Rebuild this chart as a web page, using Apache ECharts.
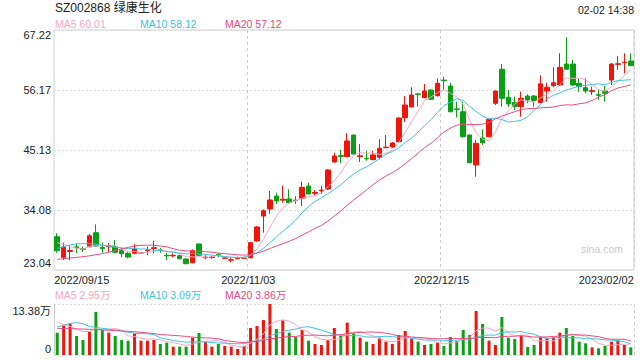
<!DOCTYPE html>
<html><head><meta charset="utf-8">
<script src="https://cdn.jsdelivr.net/npm/echarts@6/dist/echarts.min.js"></script>
<style>html,body{margin:0;padding:0;background:#fff}#c{width:640px;height:360px}</style>
</head><body><div id="c"></div>
<script>
const dates = ['2022/09/15','2022/09/16','2022/09/19','2022/09/20','2022/09/21','2022/09/22','2022/09/23','2022/09/26','2022/09/27','2022/09/28','2022/09/29','2022/09/30',
'2022/10/10','2022/10/11','2022/10/12','2022/10/13','2022/10/14','2022/10/17','2022/10/18','2022/10/19','2022/10/20','2022/10/21','2022/10/24','2022/10/25','2022/10/26','2022/10/27','2022/10/28','2022/10/31',
'2022/11/01','2022/11/02','2022/11/03','2022/11/04','2022/11/07','2022/11/08','2022/11/09','2022/11/10','2022/11/11','2022/11/14','2022/11/15','2022/11/16','2022/11/17','2022/11/18','2022/11/21','2022/11/22','2022/11/23','2022/11/24','2022/11/25','2022/11/28','2022/11/29','2022/11/30',
'2022/12/01','2022/12/02','2022/12/05','2022/12/06','2022/12/07','2022/12/08','2022/12/09','2022/12/12','2022/12/13','2022/12/14','2022/12/15','2022/12/16','2022/12/19','2022/12/20','2022/12/21','2022/12/22','2022/12/23','2022/12/26','2022/12/27','2022/12/28','2022/12/29','2022/12/30',
'2023/01/03','2023/01/04','2023/01/05','2023/01/06','2023/01/09','2023/01/10','2023/01/11','2023/01/12','2023/01/13','2023/01/16','2023/01/17','2023/01/18','2023/01/19','2023/01/20','2023/01/30','2023/01/31','2023/02/01','2023/02/02'];

const opens = [29.17,25.38,26.44,27.3,27.0,27.33,29.91,27.2,27.3,27.33,26.59,26.11,26.11,26.15,26.6,27.0,26.75,25.75,25.65,25.67,25.06,24.38,27.83,25.3,25.33,25.9,25.2,24.85,25.1,25.18,
25.3,28.38,32.98,34.27,36.66,35.9,36.11,35.9,36.24,38.5,37.15,37.6,37.95,42.92,44.1,43.9,47.89,43.9,43.6,43.35,43.79,45.55,45.68,46.66,51.08,53.05,55.45,54.76,56.18,55.13,
58.0,56.91,52.7,52.18,47.89,42.37,47.34,47.58,53.73,59.99,54.83,53.91,53.1,55.07,55.07,53.84,55.99,56.97,57.1,60.96,60.96,57.41,56.6,55.9,55.3,55.99,58.02,60.9,61.2,61.51];
const closes = [26.59,27.22,26.62,27.1,26.85,29.35,27.46,27.0,27.5,26.3,26.04,25.43,26.91,26.25,26.72,27.15,26.65,25.65,25.75,25.12,24.2,26.59,25.75,25.4,25.42,25.8,25.25,24.92,25.2,25.26,
28.07,30.96,33.96,35.93,35.74,36.05,35.43,35.8,38.26,37.03,37.3,37.75,41.45,44.03,43.95,46.79,44.39,44.05,43.5,44.21,45.44,45.65,46.42,51.02,53.41,55.26,55.35,55.99,54.46,57.41,
57.9,52.18,52.6,47.58,42.79,46.36,46.47,50.78,55.99,54.65,53.6,53.1,54.65,54.34,54.21,57.31,56.67,57.52,60.36,59.99,57.1,56.78,55.99,56.05,55.2,55.57,60.96,61.0,61.3,60.65];
const lows = [26.22,24.88,24.88,26.11,26.35,27.22,27.33,26.22,26.35,26.11,25.38,25.19,25.93,26.11,25.75,26.11,26.22,24.88,25.38,25.01,24.09,24.27,25.62,25.01,25.12,25.38,25.12,24.46,25.01,25.06,
25.19,28.25,29.91,33.35,35.19,35.43,35.19,35.19,34.82,36.98,36.66,37.03,37.77,42.79,42.7,43.9,44.34,42.92,43.16,43.29,43.42,45.44,45.5,46.47,50.29,52.99,53.1,54.65,54.34,54.94,
56.2,52.07,51.15,47.4,42.68,40.22,46.05,47.47,53.41,53.1,53.1,52.49,51.26,53.73,53.1,53.84,54.02,56.67,56.91,59.86,56.91,55.86,55.57,55.26,54.34,54.02,57.1,59.86,59.25,60.6];
const highs = [29.8,28.07,27.64,27.95,27.33,29.67,31.45,28.07,28.01,28.56,27.03,26.41,27.83,26.35,27.33,28.43,27.09,26.22,26.11,25.86,25.19,26.85,27.95,25.75,25.62,26.22,25.38,25.38,25.49,25.49,
28.2,31.14,34.21,37.58,37.27,38.56,37.9,36.66,39.3,39.11,37.77,38.5,41.58,44.63,45.2,48.21,47.95,46.24,45.0,45.0,47.1,47.89,46.6,51.15,55.07,56.67,55.57,57.28,56.31,58.33,
58.62,57.52,54.02,54.02,47.95,46.97,48.94,50.97,56.05,60.96,56.18,54.94,55.86,55.38,55.26,58.89,57.52,60.36,62.93,65.88,61.7,58.33,58.33,56.78,56.31,56.91,61.09,62.44,62.93,62.93];

const ma5 = [28.1,27.7,27.35,27.05,26.88,27.43,27.48,27.55,27.63,27.52,26.86,26.45,26.44,26.19,26.27,26.49,26.74,26.48,26.38,26.06,
25.47,25.46,25.48,25.41,25.47,25.79,25.52,25.36,25.32,25.29,25.74,26.88,28.69,30.84,32.93,34.53,35.42,35.79,36.26,36.51,
36.76,37.23,38.36,39.51,40.9,42.79,44.12,44.64,44.54,44.59,44.32,44.57,45.04,46.55,48.39,50.35,52.29,54.21,54.89,55.69,
56.22,55.59,54.91,53.53,50.61,48.3,47.16,46.8,48.48,50.85,52.3,53.62,54.4,54.07,53.98,54.72,55.44,56.01,57.21,58.37,
58.33,58.35,58.04,57.18,56.22,55.92,56.75,57.76,58.81,59.9];
const ma10 = [27.0,27.35,27.65,27.85,27.9,27.9,27.8,27.6,27.4,27.2,27.14,26.97,26.99,26.91,26.9,26.68,26.6,26.46,26.29,26.17,
25.98,26.1,25.98,25.9,25.77,25.63,25.49,25.42,25.37,25.38,25.77,26.2,27.02,28.08,29.11,30.13,31.15,32.24,33.55,34.72,
35.65,36.33,37.07,37.88,38.71,39.78,40.68,41.5,42.02,42.74,43.56,44.35,44.84,45.54,46.49,47.34,48.43,49.63,50.72,52.04,
53.29,53.94,54.56,54.21,53.15,52.26,51.37,50.85,51.01,50.73,50.3,50.39,50.6,51.27,52.42,53.51,54.53,55.2,55.64,56.18,
56.53,56.89,57.03,57.2,57.3,57.12,57.55,57.9,57.99,58.06];
const ma20 = [25.01,25.12,25.25,25.36,25.5,25.64,25.85,26.04,26.3,26.6,26.9,27.2,27.46,27.58,27.62,27.6,27.45,27.3,26.95,26.68,
26.56,26.53,26.49,26.4,26.33,26.15,26.04,25.94,25.83,25.77,25.87,26.15,26.5,26.99,27.44,27.88,28.32,28.83,29.46,30.05,
30.71,31.26,32.05,32.98,33.91,34.96,35.91,36.87,37.79,38.73,39.6,40.34,40.96,41.71,42.6,43.56,44.55,45.56,46.37,47.39,
48.42,49.14,49.7,49.88,49.82,49.8,49.9,50.24,50.86,51.39,51.79,52.17,52.58,52.74,52.78,52.89,52.95,53.03,53.32,53.45,
53.41,53.64,53.81,54.24,54.86,55.32,56.04,56.55,56.82,57.12];

const vols = [5.86,7.7,8.22,4.98,3.94,6.12,11.28,6.56,5.86,4.98,3.94,3.76,5.68,3.76,3.76,3.94,2.89,3.24,2.19,2.19,
2.19,4.55,5.77,3.5,2.19,2.89,2.36,2.19,1.57,2.36,7.08,7.61,9.18,13.38,6.82,9.09,5.86,4.81,6.56,3.76,
2.89,2.62,3.94,7.08,4.98,8.48,5.68,4.55,3.5,2.89,4.55,3.5,2.89,5.25,6.3,4.37,3.5,2.62,2.89,3.32,
2.36,4.72,3.76,6.56,5.25,11.54,8.13,3.76,2.62,9.97,4.55,4.2,5.07,2.1,2.62,4.63,4.37,4.63,5.86,7.08,
4.98,3.5,3.06,2.01,1.75,2.36,3.5,3.76,2.62,2.01];
const volMa5 = [8.7,8.0,7.5,6.8,6.14,6.19,6.91,6.58,6.75,6.96,6.52,5.02,4.84,4.42,4.18,4.18,4.01,3.52,3.2,2.89,
2.54,2.87,3.38,3.64,3.64,3.78,3.34,2.63,2.24,2.27,3.11,4.16,5.56,7.92,8.81,9.22,8.87,7.99,6.63,6.02,
4.78,4.13,3.95,4.06,4.3,5.42,6.03,6.15,5.44,5.02,4.23,3.8,3.47,3.82,4.5,4.46,4.46,4.41,3.94,3.34,
2.94,3.18,3.41,4.14,4.53,6.37,7.05,7.05,6.26,7.2,5.81,5.02,5.28,5.18,3.71,3.72,3.76,3.67,4.42,5.31,
5.38,5.21,4.9,4.13,3.06,2.54,2.54,2.68,2.8,2.85];
const volMa10 = [7.4,7.8,8.3,8.5,8.2,7.5,7.2,7.0,6.8,6.55,6.36,5.96,5.71,5.59,5.57,5.35,4.51,4.18,3.81,3.54,
3.36,3.44,3.45,3.42,3.27,3.16,3.11,3.0,2.94,2.96,3.45,3.75,4.09,5.08,5.54,6.16,6.51,6.78,7.28,7.42,
7.0,6.5,5.97,5.34,5.16,5.1,5.08,5.05,4.75,4.66,4.83,4.92,4.81,4.63,4.76,4.35,4.13,3.94,3.88,3.92,
3.7,3.82,3.91,4.04,3.94,4.65,5.12,5.23,5.2,5.87,6.09,6.03,6.17,5.72,5.46,4.77,4.39,4.48,4.8,4.51,
4.55,4.48,4.28,4.27,4.19,3.96,3.87,3.79,3.46,2.96];
const volMa20 = [7.0,6.95,6.9,6.85,6.8,6.75,6.7,6.6,6.5,6.4,6.3,6.2,6.1,5.95,5.8,5.6,5.4,5.25,5.15,5.04,
4.86,4.7,4.58,4.5,4.42,4.26,3.81,3.59,3.38,3.25,3.4,3.6,3.77,4.25,4.4,4.66,4.81,4.89,5.11,5.19,
5.22,5.12,5.03,5.21,5.35,5.63,5.8,5.92,6.01,6.04,5.91,5.71,5.39,4.99,4.96,4.72,4.61,4.5,4.31,4.29,
4.26,4.37,4.36,4.33,4.35,4.5,4.62,4.58,4.54,4.89,4.89,4.93,5.04,4.88,4.7,4.71,4.75,4.85,5.0,5.19,
5.32,5.26,5.22,5.0,4.82,4.36,4.13,4.13,4.13,3.73];

const priceTickLabels = ['23.04','34.08','45.13','56.17','67.22'];
const priceMin = 23.04, priceMax = 67.22;
const volTickLabels = ['0','13.38万'];
const volMax = 13.38;
const xLabelIndex = [0, 30, 60, 89];
const xSplitIndex = [30, 60];
const titleText = 'SZ002868 绿康生化';
const timeText = '02-02 14:38';
const maLegend = ['MA5 60.01', 'MA10 58.12', 'MA20 57.12'];
const volLegend = ['MA5 2.95万', 'MA10 3.09万', 'MA20 3.86万'];

const RED = '#f0140a', GREEN = '#0aa014';
const C5 = '#f7a7c3', C10 = '#3cc3e0', C20 = '#ea4a80';
const FONT = 'Arial, "Liberation Sans", "Noto Sans CJK SC", sans-serif';

const candleData = opens.map((o, i) => [o, closes[i], lows[i], highs[i]]);
const volData = vols.map((v, i) => ({ value: v, itemStyle: { color: closes[i] >= opens[i] ? RED : GREEN } }));

const chart = echarts.init(document.getElementById('c'), null, { renderer: 'svg' });

function txt(text, x, y, color, size, align) {
  return { type: 'text', x: x, y: y, silent: true,
    style: { text: text, fill: color, fontSize: size, fontFamily: FONT,
      align: align || 'left', verticalAlign: 'middle', textAlign: align || 'left', textVerticalAlign: 'middle' } };
}
const legX = [55, 140, 225];
const graphics = [
  txt(titleText, 55, 8, '#222', 12),
  txt(timeText, 634, 10, '#222', 10.5, 'right'),
  txt(maLegend[0], legX[0], 24, C5, 10.5), txt(maLegend[1], legX[1], 24, C10, 10.5), txt(maLegend[2], legX[2], 24, C20, 10.5),
  txt(volLegend[0], legX[0], 295, C5, 10.5), txt(volLegend[1], legX[1], 295, C10, 10.5), txt(volLegend[2], legX[2], 295, C20, 10.5),
  txt('sina.com', 623, 249, '#cccccc', 10.5, 'right')
];

const lbl = { fontSize: 11, fontFamily: FONT, color: '#222' };
const lineS = (name, data, color, xi, yi) => ({ type: 'line', name: name, data: data, xAxisIndex: xi, yAxisIndex: yi,
  symbol: 'none', smooth: false, silent: true, lineStyle: { width: 1, color: color }, itemStyle: { color: color } });

chart.setOption({
  animation: false,
  backgroundColor: '#fff',
  graphic: graphics,
  grid: [
    { left: 54, right: 6, top: 30, height: 240, show: true, borderColor: '#cfcfcf', borderWidth: 1, backgroundColor: 'transparent' },
    { left: 54, right: 6, top: 304, height: 51 }
  ],
  xAxis: [
    { type: 'category', gridIndex: 0, data: dates, boundaryGap: true,
      axisLine: { show: false }, axisTick: { show: false },
      axisLabel: { show: true, margin: 4, interval: (i) => xLabelIndex.includes(i), ...lbl,
        formatter: (v, i) => i === 0 ? '{l|' + v + '}' : (i === dates.length - 1 ? '{r|' + v + '}' : '{m|' + v + '}'),
        rich: { l: { ...lbl, padding: [0, 0, 0, 49] }, r: { ...lbl, padding: [0, 49, 0, 0] }, m: { ...lbl, padding: [0, 4.5, 0, 0] } } },
      splitLine: { show: true, interval: (i) => xSplitIndex.includes(i), lineStyle: { color: '#cccccc', type: [3, 3], width: 1 } } },
    { type: 'category', gridIndex: 1, data: dates, boundaryGap: true,
      axisLine: { show: false }, axisTick: { show: false }, axisLabel: { show: false },
      splitLine: { show: true, interval: (i) => xSplitIndex.includes(i), lineStyle: { color: '#cccccc', type: [3, 3], width: 1 } } }
  ],
  yAxis: [
    { type: 'value', gridIndex: 0, min: priceMin, max: priceMax, show: false, splitLine: { show: false } },
    { type: 'value', gridIndex: 0, min: 0, max: priceTickLabels.length - 1, interval: 1, position: 'left',
      axisLine: { show: false }, axisTick: { show: false },
      splitLine: { show: true, lineStyle: { color: '#dddddd', type: [2, 2], width: 1 } },
      axisLabel: { margin: 3, ...lbl,
        formatter: (v) => { const k = Math.round(v); const s = priceTickLabels[k];
          return k === 0 ? '{b|' + s + '}' : (k === priceTickLabels.length - 1 ? '{t|' + s + '}' : '{n|' + s + '}'); },
        rich: { t: { ...lbl, padding: [10, 0, 0, 0] }, b: { ...lbl, padding: [0, 0, 14, 0] }, n: { ...lbl } } } },
    { type: 'value', gridIndex: 1, min: 0, max: volMax, interval: volMax, position: 'left',
      axisLine: { show: true, lineStyle: { color: '#cfcfcf', width: 1 } }, axisTick: { show: false },
      splitLine: { show: true, lineStyle: { color: '#dddddd', type: [2, 2], width: 1 } },
      axisLabel: { margin: 3, ...lbl,
        formatter: (v) => v === 0 ? '{b|' + volTickLabels[0] + '}' : '{t|' + volTickLabels[1] + '}',
        rich: { t: { ...lbl, padding: [14, 0, 0, 0] }, b: { ...lbl, padding: [0, 0, 13, 0] } } } }
  ],
  series: [
    { type: 'candlestick', xAxisIndex: 0, yAxisIndex: 0, data: candleData, barWidth: 5, silent: true,
      itemStyle: { color: RED, color0: GREEN, borderColor: RED, borderColor0: GREEN, borderWidth: 1 } },
    lineS('MA5', ma5, C5, 0, 0), lineS('MA10', ma10, C10, 0, 0), lineS('MA20', ma20, C20, 0, 0),
    { type: 'bar', xAxisIndex: 1, yAxisIndex: 2, data: volData, barWidth: 3, silent: true },
    lineS('VMA5', volMa5, C5, 1, 2), lineS('VMA10', volMa10, C10, 1, 2), lineS('VMA20', volMa20, C20, 1, 2)
  ]
});
</script></body></html>
